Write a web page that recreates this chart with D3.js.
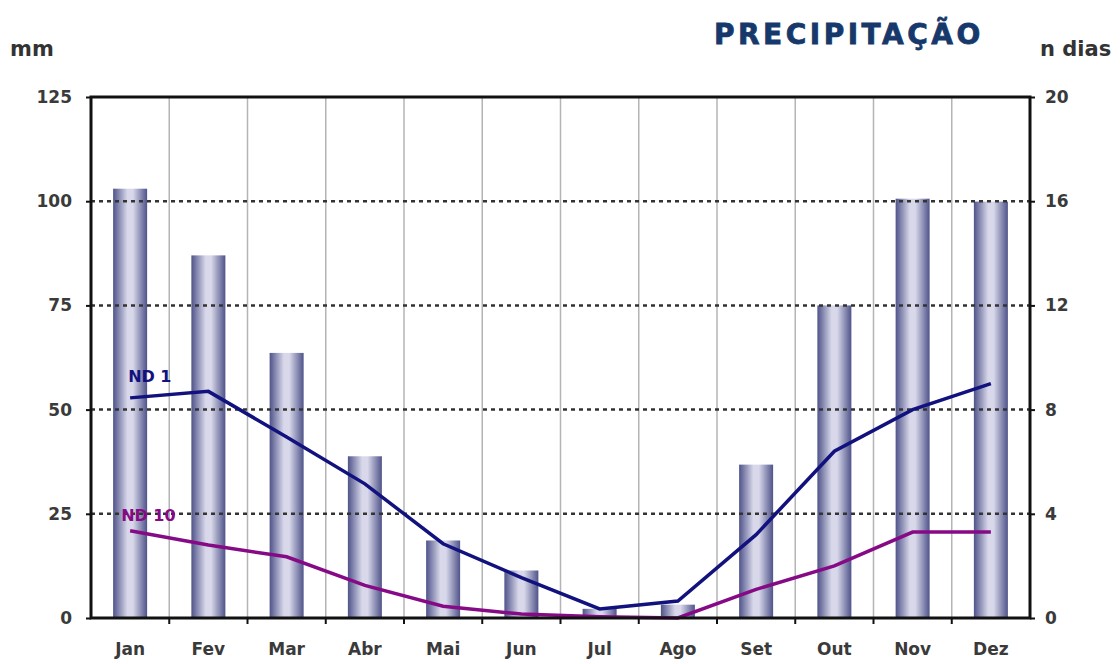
<!DOCTYPE html>
<html>
<head>
<meta charset="utf-8">
<script src="https://cdn.jsdelivr.net/npm/d3@7"></script>
<style>
  body { margin: 0; background: #fff; }
  text { font-family: "DejaVu Sans", Verdana, sans-serif; font-weight: bold; }
</style>
</head>
<body>
<div class="chart"></div>
<script>
// data
var months = ["Jan", "Fev", "Mar", "Abr", "Mai", "Jun", "Jul", "Ago", "Set", "Out", "Nov", "Dez"];
var precipMM = [103, 87, 63.6, 38.8, 18.6, 11.4, 2.2, 3.2, 36.8, 75, 100.6, 99.9];
var nd1 = [8.45, 8.7, 6.95, 5.15, 2.85, 1.55, 0.35, 0.65, 3.2, 6.4, 8.0, 9.0];
var nd10 = [3.35, 2.8, 2.35, 1.25, 0.45, 0.15, 0.05, 0.0, 1.1, 2.0, 3.3, 3.3];
var leftTicks = [0, 25, 50, 75, 100, 125];
var rightTicks = [0, 4, 8, 12, 16, 20];

var svgWidth = 1120, svgHeight = 664;
var margin = { top: 97, right: 90, bottom: 46, left: 91 };
var width = svgWidth - margin.left - margin.right;
var height = svgHeight - margin.top - margin.bottom;

var svg = d3.select(".chart").append("svg")
    .attr("width", svgWidth)
    .attr("height", svgHeight);

// horizontal gradient for the bars
var grad = svg.append("defs").append("linearGradient")
    .attr("id", "barGrad")
    .attr("x1", "0%").attr("x2", "100%").attr("y1", "0%").attr("y2", "0%");
grad.append("stop").attr("offset", "0%").attr("stop-color", "#4f5389");
grad.append("stop").attr("offset", "42%").attr("stop-color", "#d8d8ea");
grad.append("stop").attr("offset", "58%").attr("stop-color", "#d8d8ea");
grad.append("stop").attr("offset", "100%").attr("stop-color", "#4f5389");

var chartGroup = svg.append("g")
    .attr("transform", `translate(${margin.left}, ${margin.top})`);

var x = d3.scaleBand().domain(months).range([0, width]);
var yL = d3.scaleLinear().domain([0, 125]).range([height, 0]);
var yR = d3.scaleLinear().domain([0, 20]).range([height, 0]);

// vertical grey grid lines at band edges
chartGroup.append("g")
    .selectAll("line")
    .data(months.slice(1))
    .enter()
    .append("line")
    .attr("x1", d => x(d))
    .attr("x2", d => x(d))
    .attr("y1", 0)
    .attr("y2", height)
    .attr("stroke", "#b4b4b4")
    .attr("stroke-width", 1.5);

// bars
chartGroup.selectAll("rect.bar")
    .data(precipMM)
    .enter()
    .append("rect")
    .attr("class", "bar")
    .attr("x", (d, i) => x(months[i]) + x.bandwidth() / 2 - 17)
    .attr("width", 34)
    .attr("y", d => yL(d))
    .attr("height", d => height - yL(d))
    .attr("fill", "url(#barGrad)");

// dotted horizontal grid
chartGroup.append("g")
    .selectAll("line")
    .data(leftTicks.slice(1, -1))
    .enter()
    .append("line")
    .attr("x1", 0)
    .attr("x2", width)
    .attr("y1", d => yL(d))
    .attr("y2", d => yL(d))
    .attr("stroke", "#333")
    .attr("stroke-width", 2.5)
    .attr("stroke-dasharray", "4,4");

// lines
var lineGen = d3.line()
    .x((d, i) => x(months[i]) + x.bandwidth() / 2)
    .y(d => yR(d));

chartGroup.append("path")
    .datum(nd10)
    .attr("d", lineGen)
    .attr("fill", "none")
    .attr("stroke", "#860a86")
    .attr("stroke-width", 3.5);

chartGroup.append("path")
    .datum(nd1)
    .attr("d", lineGen)
    .attr("fill", "none")
    .attr("stroke", "#12127e")
    .attr("stroke-width", 3.5);

// frame
chartGroup.append("rect")
    .attr("width", width)
    .attr("height", height)
    .attr("fill", "none")
    .attr("stroke", "#111")
    .attr("stroke-width", 3);

// axes
var leftAxis = d3.axisLeft(yL).tickValues(leftTicks).tickSize(5).tickPadding(14);
var rightAxis = d3.axisRight(yR).tickValues(rightTicks).tickSize(5).tickPadding(10);
var bottomAxis = d3.axisBottom(x).tickSize(0).tickPadding(25);

function styleAxis(g) {
  g.select(".domain").remove();
  g.selectAll(".tick line").attr("stroke", "#111").attr("stroke-width", 2);
  g.selectAll(".tick text").attr("fill", "#3a3a3a").style("font-size", "17px")
    .style("font-family", "'DejaVu Sans', Verdana, sans-serif").style("font-weight", "bold");
}

chartGroup.append("g").call(leftAxis).call(styleAxis);
chartGroup.append("g").attr("transform", `translate(${width},0)`).call(rightAxis).call(styleAxis);
var xAxis = chartGroup.append("g").attr("transform", `translate(0,${height})`).call(bottomAxis).call(styleAxis);

// little tick marks between months on the bottom
chartGroup.append("g")
    .selectAll("line")
    .data(months.slice(1))
    .enter()
    .append("line")
    .attr("x1", d => x(d))
    .attr("x2", d => x(d))
    .attr("y1", height)
    .attr("y2", height + 6)
    .attr("stroke", "#111")
    .attr("stroke-width", 2);

// series labels
chartGroup.append("text")
    .attr("x", x("Jan") + x.bandwidth() / 2 - 2)
    .attr("y", yR(nd1[0]) - 16)
    .attr("fill", "#12127e")
    .style("font-size", "16px")
    .text("ND 1");

chartGroup.append("text")
    .attr("x", x("Jan") + x.bandwidth() / 2 - 9)
    .attr("y", yR(nd10[0]) - 10)
    .attr("fill", "#860a86")
    .style("font-size", "16px")
    .text("ND 10");

// titles
svg.append("text")
    .attr("x", 10)
    .attr("y", 56)
    .attr("fill", "#333")
    .style("font-size", "21px")
    .text("mm");

svg.append("text")
    .attr("x", 1040)
    .attr("y", 56)
    .attr("fill", "#333")
    .style("font-size", "21px")
    .text("n dias");

svg.append("text")
    .attr("x", 714)
    .attr("y", 44)
    .attr("fill", "#17386b")
    .style("font-size", "28px")
    .style("font-weight", "900")
    .style("letter-spacing", "3.5px")
    .style("stroke", "#17386b")
    .style("stroke-width", "0.8px")
    .text("PRECIPITAÇÃO");
</script>
</body>
</html>
